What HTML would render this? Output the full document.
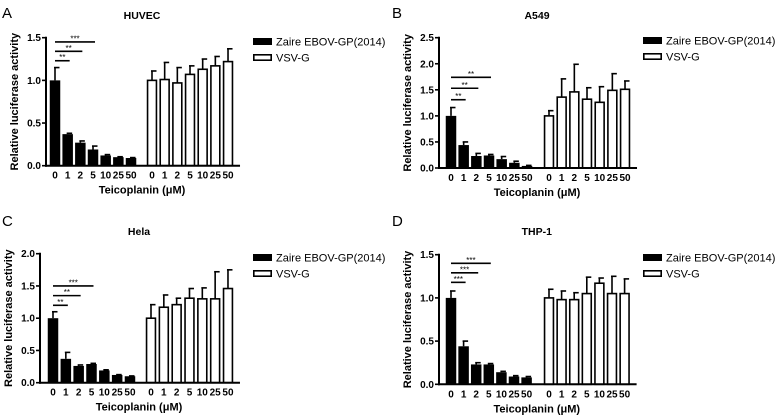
<!DOCTYPE html>
<html><head><meta charset="utf-8"><style>
body{margin:0;background:#fff;}
svg{display:block;font-family:"Liberation Sans",Arial,sans-serif;}
</style></head><body>
<svg id="fig" width="778" height="416" viewBox="0 0 778 416" xmlns="http://www.w3.org/2000/svg"></svg>
<script>
const categories = ["0","1","2","5","10","25","50"];
const panelTitles = ["HUVEC","A549","Hela","THP-1"];
const panelLetters = ["A","B","C","D"];
const ebovA = [1.0,0.37,0.27,0.19,0.12,0.10,0.09];
const ebovErrA = [0.15,0.01,0.02,0.04,0.01,0.005,0.005];
const vsvA = [1.0,1.01,0.97,1.07,1.13,1.17,1.22];
const vsvErrA = [0.11,0.2,0.18,0.1,0.12,0.11,0.15];
const ebovB = [1.0,0.44,0.23,0.24,0.17,0.10,0.04];
const ebovErrB = [0.16,0.06,0.05,0.02,0.05,0.03,0.01];
const vsvB = [1.0,1.36,1.46,1.32,1.26,1.49,1.51];
const vsvErrB = [0.1,0.35,0.53,0.22,0.3,0.32,0.16];
const ebovC = [1.0,0.37,0.26,0.29,0.19,0.12,0.10];
const ebovErrC = [0.1,0.1,0.015,0.01,0.01,0.005,0.005];
const vsvC = [1.0,1.17,1.21,1.31,1.30,1.30,1.46];
const vsvErrC = [0.21,0.19,0.1,0.15,0.17,0.42,0.29];
const ebovD = [1.0,0.44,0.23,0.23,0.14,0.09,0.08];
const ebovErrD = [0.08,0.06,0.02,0.01,0.01,0.01,0.01];
const vsvD = [1.0,0.98,0.98,1.05,1.17,1.05,1.05];
const vsvErrD = [0.1,0.1,0.08,0.19,0.06,0.2,0.17];
const yMaxes = [1.5,2.5,2.0,1.5];
const yTickLabelsA = ["0.0","0.5","1.0","1.5"];
const yTickLabelsB = ["0.0","0.5","1.0","1.5","2.0","2.5"];
const yTickLabelsC = ["0.0","0.5","1.0","1.5","2.0"];
const yTickLabelsD = ["0.0","0.5","1.0","1.5"];
const sigLevelsA = [1.23,1.34,1.45]; const sigLabelsA = ["**","**","***"];
const sigLevelsB = [1.31,1.53,1.74]; const sigLabelsB = ["**","**","**"];
const sigLevelsC = [1.20,1.35,1.50]; const sigLabelsC = ["**","**","***"];
const sigLevelsD = [1.18,1.29,1.40]; const sigLabelsD = ["***","***","***"];

const NS="http://www.w3.org/2000/svg";
const svg=document.getElementById('fig');
function mk(tag,attrs,parent,text){const e=document.createElementNS(NS,tag);for(const k in attrs)e.setAttribute(k,attrs[k]);if(text!==undefined)e.textContent=text;(parent||svg).appendChild(e);return e;}

const layout=[
 {ox:0,axX:46,y0:165.7,yTop:37.7,g1:55,g2:152,step:12.67,letterY:18,titleY:19,legY:38},
 {ox:390,axX:439,y0:168,yTop:37.7,g1:451,g2:549,step:12.67,letterY:18,titleY:19,legY:37},
 {ox:0,axX:40,y0:382.7,yTop:253.7,g1:53,g2:151,step:12.83,letterY:226,titleY:235,legY:254},
 {ox:390,axX:439,y0:384.3,yTop:254.7,g1:451,g2:549,step:12.6,letterY:226,titleY:235,legY:254}
];
const data=[[ebovA,ebovErrA,vsvA,vsvErrA,yTickLabelsA,sigLevelsA,sigLabelsA],
 [ebovB,ebovErrB,vsvB,vsvErrB,yTickLabelsB,sigLevelsB,sigLabelsB],
 [ebovC,ebovErrC,vsvC,vsvErrC,yTickLabelsC,sigLevelsC,sigLabelsC],
 [ebovD,ebovErrD,vsvD,vsvErrD,yTickLabelsD,sigLevelsD,sigLabelsD]];

layout.forEach((L,p)=>{
 const [eb,ebE,vs,vsE,ticks,sigL,sigT]=data[p];
 const ymax=yMaxes[p];
 const g=mk('g',{});
 
 
 const y=v=>L.y0-(v/ymax)*(L.y0-L.yTop);
 const xc=(grp,i)=>(grp?L.g2:L.g1)+i*L.step;
 const bw=10.5;
 const lt=mk('text',{x:L.ox+2,y:L.letterY,'font-size':15},g,panelLetters[p]);
 
 const cx=(L.axX+xc(1,6)+10)/2;
 const tt=mk('text',{x:cx,y:L.titleY,'font-size':10.5,'font-weight':'bold','text-anchor':'middle'},g,panelTitles[p]);
 
 [[eb,ebE,0],[vs,vsE,1]].forEach(([vals,errs,grp])=>{
  vals.forEach((v,i)=>{
   const x=xc(grp,i);
   const top=y(v),etop=y(v+errs[i]);
   const el=mk('line',{x1:x,x2:x,y1:top,y2:etop,stroke:'#000','stroke-width':1.6},g);
   
   const cap=mk('line',{x1:x-1,x2:x+4.5,y1:etop,y2:etop,stroke:'#000','stroke-width':1.6},g);
   
   const r=grp?mk('rect',{x:x-bw/2+0.8,y:top,width:bw-1.6,height:L.y0-top,fill:'#fff',stroke:'#000','stroke-width':1.6},g)
              :mk('rect',{x:x-bw/2,y:top,width:bw,height:L.y0-top,fill:'#000'},g);
   
  });
 });
 const ya=mk('line',{x1:L.axX,x2:L.axX,y1:L.yTop-1,y2:L.y0+1,stroke:'#000','stroke-width':2},g);
 
 const xa=mk('line',{x1:L.axX-1,x2:xc(1,6)+12,y1:L.y0,y2:L.y0,stroke:'#000','stroke-width':2},g);
 
 ticks.forEach((t,i)=>{
  const ty=y(parseFloat(t));
  mk('line',{x1:L.axX-4,x2:L.axX,y1:ty,y2:ty,stroke:'#000','stroke-width':1.6},g);
  const tl=mk('text',{x:L.axX-5,y:ty+3.5,'font-size':10,'font-weight':'bold','text-anchor':'end'},g,t);
  
 });
 [0,1].forEach(grp=>categories.forEach((c,i)=>{
  const tl=mk('text',{x:xc(grp,i),y:L.y0+13,'font-size':10,'font-weight':'bold','text-anchor':'middle'},g,c);
  
 }));
 const xt=mk('text',{x:cx,y:L.y0+28,'font-size':11,'font-weight':'bold','text-anchor':'middle'},g,'Teicoplanin (\u03BCM)');
 
 const ym=(L.y0+L.yTop)/2;
 const yt=mk('text',{x:0,y:0,'font-size':11,'font-weight':'bold','text-anchor':'middle',transform:`translate(${L.axX-28},${ym}) rotate(-90)`},g,'Relative luciferase activity');
 
 sigL.forEach((lv,k)=>{
  const x1=xc(0,0),x2=xc(0,k+1)+2,sy=y(lv);
  const sl=mk('line',{x1:x1,x2:x2,y1:sy,y2:sy,stroke:'#000','stroke-width':1.6},g);
  
  const st=mk('text',{x:(x1+x2)/2,y:sy-0.5,'font-size':8,'text-anchor':'middle'},g,sigT[k]);
  
 });
 const lx=L.ox+253;
 const l1=mk('rect',{x:lx,y:L.legY,width:19,height:7,fill:'#000'},g);
 
 const t1=mk('text',{x:lx+23,y:L.legY+7.5,'font-size':11},g,'Zaire EBOV-GP(2014)');
 
 const l2=mk('rect',{x:lx+0.8,y:L.legY+16.8,width:17.4,height:5.4,fill:'#fff',stroke:'#000','stroke-width':1.6},g);
 
 const t2=mk('text',{x:lx+23,y:L.legY+23.5,'font-size':11},g,'VSV-G');
 
});
</script>
</body></html>
